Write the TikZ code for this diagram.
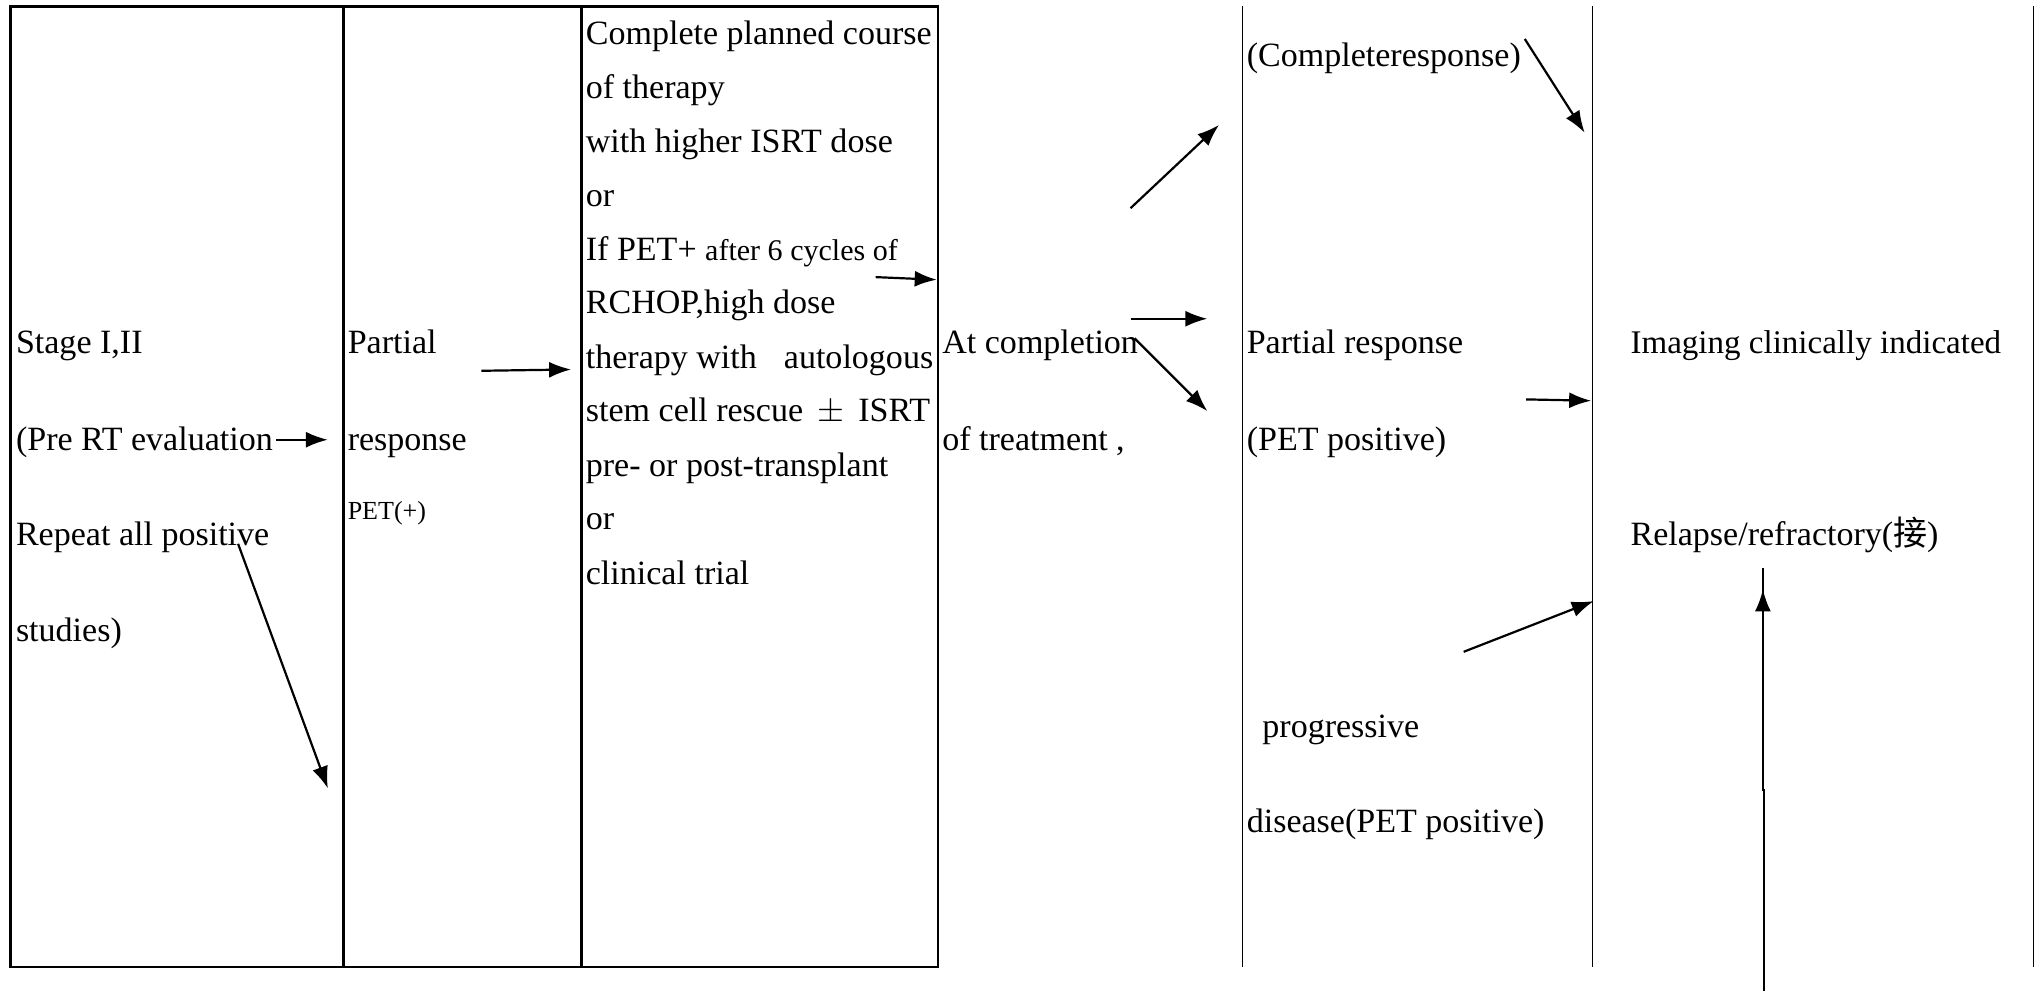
\documentclass[tikz,border=0pt]{standalone}
\usepackage{fontspec}
\setmainfont{Liberation Serif}
\newfontfamily\cjk{Noto Sans CJK SC}
\usetikzlibrary{arrows.meta}
\begin{document}
\begin{tikzpicture}[x=0.65pt,y=-0.65pt,
  txt/.style={anchor=base west,inner sep=0pt,font=\fontsize{17}{20}\selectfont},
  sml/.style={anchor=base west,inner sep=0pt,font=\fontsize{15}{18}\selectfont},
  arr/.style={-{Latex[length=11pt,width=8pt]},line width=1.1pt},
  frame/.style={line width=1.1pt},
  rule/.style={line width=0.8pt}]
\useasboundingbox (0,0) rectangle (1568,762);
\fill[white] (0,0) rectangle (1568,762);
% frame and columns
\draw[frame] (8,5) rectangle (721,743);
\draw[frame] (264,5) -- (264,743);
\draw[frame] (447,5) -- (447,743);
\draw[rule] (955,5) -- (955,743);
\draw[rule] (1224,5) -- (1224,743);
\draw[rule] (1563,5) -- (1563,743);
% column 1
\node[txt] (s1) at (12,272) {Stage I,II};
\node[txt] (s2) at (12,346) {(Pre RT evaluation};
\node[txt] (s3) at (12,419) {Repeat all positive};
\node[txt] (s4) at (12,493) {studies)};
% column 2
\node[txt] (p1) at (267,272) {Partial};
\node[txt] (p2) at (267,346) {response};
\node[sml,font=\fontsize{13}{16}\selectfont] (p3) at (267,399) {PET(+)};
% column 3
\node[txt] (c1) at (450,34) {Complete planned course};
\node[txt] (c2) at (450,76) {of therapy};
\node[txt] (c3) at (450,117) {with higher ISRT dose};
\node[txt] (c4) at (450,159) {or};
\node[txt] (c5) at (450,200) {If PET+ {\fontsize{15}{18}\selectfont after 6 cycles of}};
\node[txt] (c6) at (450,241) {RCHOP,high dose};
\node[txt,text width=267*0.65pt,align=justify] (c7) at (450,283) {therapy with \hfill autologous};
\node[txt] (c8) at (450,324) {stem cell rescue \,$\pm$\, ISRT};
\node[txt] (c9) at (450,366) {pre- or post-transplant};
\node[txt] (c10) at (450,407) {or};
\node[txt] (c11) at (450,449) {clinical trial};
% column 4
\node[txt] (t1) at (724,272) {At completion};
\node[txt] (t2) at (724,346) {of treatment ,};
% column 5
\node[txt] (r1) at (958,51) {(Completeresponse)};
\node[txt] (r2) at (958,272) {Partial response};
\node[txt] (r3) at (958,346) {(PET positive)};
\node[txt] (r4) at (970,567) {progressive};
\node[txt] (r5) at (958,640) {disease(PET positive)};
% column 6
\node[txt,font=\fontsize{16.5}{20}\selectfont] (i1) at (1253,272) {Imaging clinically indicated};
\node[txt] (i2) at (1253,419) {Relapse/refractory({\cjk 接})};
% arrow end points
\coordinate (a1s) at (212,338); \coordinate (a1e) at (252,338);
\coordinate (a2s) at (183,418); \coordinate (a2e) at (252,606);
\coordinate (a3s) at (370,285); \coordinate (a3e) at (439,284);
\coordinate (a4s) at (673,213); \coordinate (a4e) at (720,215);
\coordinate (a5s) at (869,160); \coordinate (a5e) at (937,96);
\coordinate (a6s) at (869,245); \coordinate (a6e) at (928,245);
\coordinate (a7s) at (872,260); \coordinate (a7e) at (928,316);
\coordinate (a8s) at (1172,30); \coordinate (a8e) at (1218,102);
\coordinate (a9s) at (1173,307); \coordinate (a9e) at (1223,308);
\coordinate (a10s) at (1125,501); \coordinate (a10e) at (1225,462);
\coordinate (a11s) at (1356,762); \coordinate (a11m) at (1356,607);
\coordinate (a11e) at (1355,453);
\draw[arr] (a1s) -- (a1e);
\draw[arr] (a2s) -- (a2e);
\draw[arr] (a3s) -- (a3e);
\draw[arr] (a4s) -- (a4e);
\draw[arr] (a5s) -- (a5e);
\draw[arr] (a6s) -- (a6e);
\draw[arr] (a7s) -- (a7e);
\draw[arr] (a8s) -- (a8e);
\draw[arr] (a9s) -- (a9e);
\draw[arr] (a10s) -- (a10e);
\draw[arr] (a11s) -- (a11m) -- ++(-1,0) |- (a11e);
\end{tikzpicture}
\end{document}
